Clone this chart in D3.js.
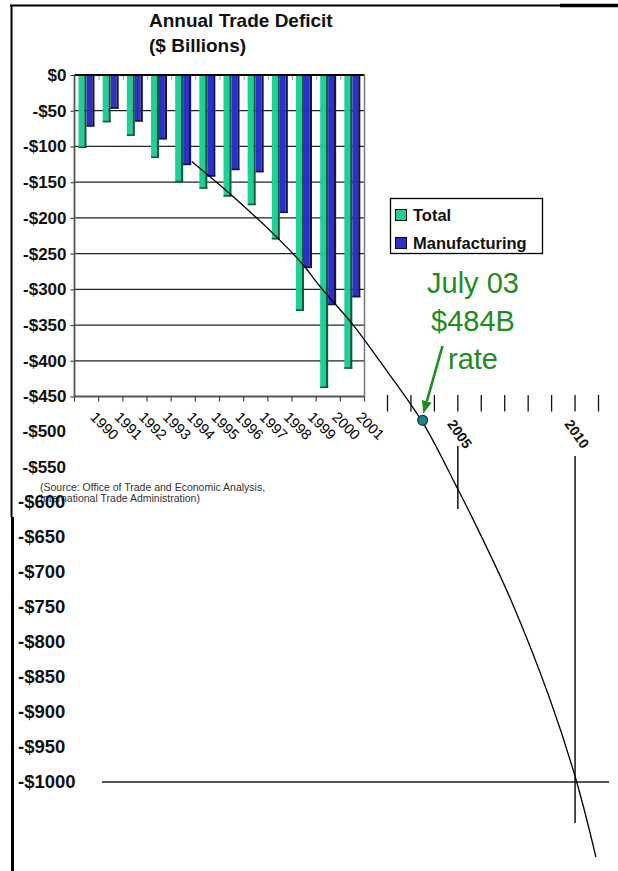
<!DOCTYPE html>
<html>
<head>
<meta charset="utf-8">
<script src="https://cdn.jsdelivr.net/npm/d3@7"></script>
<style>
  html, body { margin: 0; padding: 0; background: #fff; }
  svg { display: block; font-family: "Liberation Sans", Arial, Helvetica, sans-serif; }
</style>
</head>
<body>
<svg id="chart" width="618" height="871"></svg>
<script>
// Annual trade deficit, $ billions
const years = ["1990","1991","1992","1993","1994","1995","1996","1997","1998","1999","2000","2001"];
const seriesNames = ["Total", "Manufacturing"];
const totalDeficit = [-102, -66, -85, -116, -150, -159, -170, -182, -230, -330, -438, -411];
const manufacturingDeficit = [-72, -47, -65, -90, -126, -142, -133, -136, -193, -270, -322, -311];

// value axis labels
const plotTicks = [0, -50, -100, -150, -200, -250, -300, -350, -400, -450];
const midTicks = [-500, -550];
const extTicks = [-600, -650, -700, -750, -800, -850, -900, -950, -1000];

// projection timeline
const projYears = [2002, 2003, 2004, 2005, 2006, 2007, 2008, 2009, 2010, 2011];
const markedYears = [2005, 2010];
const trendYears  = [1993.65, 1995.41, 1997.34, 1998.41, 1999.12, 2000.54, 2001.68, 2003.5, 2004.95, 2005.66, 2007.26, 2008.94, 2010.07, 2010.89];
const trendValues = [-121, -170, -229, -266, -296, -350, -401, -487, -579, -626, -740, -883, -1000, -1107];
const rateYear = 2003.5;
const rateValue = -484;

const colors = { Total: "#1fcf98", Manufacturing: "#2e2ecc" };
const sideColors = { Total: "#0c5c42", Manufacturing: "#14144e" };

const svg = d3.select("#chart");
const fmt = v => v === 0 ? "$0" : "-$" + (-v);

// scales
const y = d3.scaleLinear().domain([0, -450, -1000]).range([75, 396.5, 782]);
const x0 = d3.scaleBand().domain(years).range([74.5, 364.5]);
const x1 = d3.scaleBand().domain(seriesNames).range([4, 20]);
const xt = d3.scaleLinear().domain([2002, 2011]).range([387.5, 598.5]);

// outer frame
svg.append("line").attr("x1", 10).attr("x2", 560).attr("y1", 5.5).attr("y2", 5.5)
  .attr("stroke", "#000").attr("stroke-width", 2);
svg.append("line").attr("x1", 560).attr("x2", 618).attr("y1", 5.5).attr("y2", 5.5)
  .attr("stroke", "#000").attr("stroke-width", 3.5);
svg.append("line").attr("x1", 11.5).attr("x2", 11.5).attr("y1", 5).attr("y2", 517)
  .attr("stroke", "#000").attr("stroke-width", 2);
svg.append("line").attr("x1", 12.5).attr("x2", 12.5).attr("y1", 517).attr("y2", 871)
  .attr("stroke", "#000").attr("stroke-width", 3);

// title
const title = svg.append("text").attr("x", 149).attr("font-weight", "bold")
  .attr("font-size", 19).attr("fill", "#111");
title.append("tspan").attr("x", 149).attr("y", 27).text("Annual Trade Deficit");
title.append("tspan").attr("x", 149).attr("y", 52).text("($ Billions)");

// gridlines
const plotLeft = x0.range()[0], plotRight = x0.range()[1];
svg.append("g").selectAll("line")
  .data(plotTicks.filter(v => v < 0 && v > -450))
  .join("line")
  .attr("x1", plotLeft).attr("x2", plotRight)
  .attr("y1", d => y(d)).attr("y2", d => y(d))
  .attr("stroke", "#222").attr("stroke-width", 1.3);

// bars
const bars = years.flatMap((yr, i) => [
  { yr, s: "Total", v: totalDeficit[i] },
  { yr, s: "Manufacturing", v: manufacturingDeficit[i] }
]);
const side = 2.2;
const bw = x1.bandwidth();
const barG = svg.append("g");
barG.selectAll("rect.front").data(bars).join("rect").attr("class", "front")
  .attr("x", d => x0(d.yr) + x1(d.s))
  .attr("y", y(0))
  .attr("width", bw - side)
  .attr("height", d => y(d.v) - y(0))
  .attr("fill", d => colors[d.s]);
barG.selectAll("rect.side").data(bars).join("rect").attr("class", "side")
  .attr("x", d => x0(d.yr) + x1(d.s) + bw - side)
  .attr("y", y(0))
  .attr("width", side)
  .attr("height", d => y(d.v) - y(0))
  .attr("fill", d => sideColors[d.s]);
barG.selectAll("rect.base").data(bars).join("rect").attr("class", "base")
  .attr("x", d => x0(d.yr) + x1(d.s))
  .attr("y", d => y(d.v) - 1.4)
  .attr("width", bw)
  .attr("height", 1.6)
  .attr("fill", d => sideColors[d.s]);

// top edge and small floor ticks
svg.append("line").attr("x1", plotLeft).attr("x2", plotRight).attr("y1", y(0)).attr("y2", y(0))
  .attr("stroke", "#000").attr("stroke-width", 2.2);
svg.append("g").selectAll("line").data(years.slice(1).concat(["end"]))
  .join("line")
  .attr("x1", d => d === "end" ? plotRight : x0(d) + 0.5)
  .attr("x2", d => d === "end" ? plotRight : x0(d) + 0.5)
  .attr("y1", y(0) + 1).attr("y2", y(0) + 5)
  .attr("stroke", "#999").attr("stroke-width", 1);

// right border and bottom axis
svg.append("line").attr("x1", plotRight).attr("x2", plotRight).attr("y1", y(0)).attr("y2", y(-450))
  .attr("stroke", "#777").attr("stroke-width", 1.5);
svg.append("line").attr("x1", plotLeft).attr("x2", plotRight).attr("y1", y(-450)).attr("y2", y(-450))
  .attr("stroke", "#555").attr("stroke-width", 2);
svg.append("g").selectAll("line").data(years.concat(["end"]))
  .join("line")
  .attr("x1", d => d === "end" ? plotRight : x0(d))
  .attr("x2", d => d === "end" ? plotRight : x0(d))
  .attr("y1", y(-450)).attr("y2", y(-450) + 5)
  .attr("stroke", "#444").attr("stroke-width", 1.2);

// year labels
svg.append("g").selectAll("text").data(years).join("text")
  .attr("transform", d => `translate(${x0(d) + x0.bandwidth() / 2 + 3},${418}) rotate(45)`)
  .attr("font-size", 14.5).attr("fill", "#000")
  .text(d => d);

// left value axis
const yAxis = d3.axisLeft(y).tickValues(plotTicks).tickSize(4).tickPadding(4).tickFormat(fmt);
const axG = svg.append("g").attr("transform", `translate(${plotLeft},0)`).call(yAxis);
axG.select(".domain").remove();
axG.selectAll(".tick line").attr("stroke", "#444").attr("stroke-width", 1.2);
axG.selectAll(".tick text").attr("font-size", 17).attr("font-weight", "bold")
  .attr("font-family", "'Liberation Sans', Arial, sans-serif").attr("fill", "#111");
svg.append("line").attr("x1", plotLeft).attr("x2", plotLeft).attr("y1", y(0)).attr("y2", y(-450))
  .attr("stroke", "#555").attr("stroke-width", 1.8);

// source note
const src = svg.append("text").attr("font-size", 10.5).attr("fill", "#333");
src.append("tspan").attr("x", 40).attr("y", 491).text("(Source:  Office of Trade and Economic Analysis,");
src.append("tspan").attr("x", 40).attr("y", 502).text("International Trade Administration)");

// extended value labels
svg.append("g").selectAll("text").data(midTicks).join("text")
  .attr("x", 66).attr("y", d => y(d)).attr("dy", "0.35em")
  .attr("text-anchor", "end").attr("font-size", 17).attr("font-weight", "bold").attr("fill", "#111")
  .text(fmt);
svg.append("g").selectAll("text").data(extTicks).join("text")
  .attr("x", 18).attr("y", d => y(d)).attr("dy", "0.35em")
  .attr("font-size", 18.5).attr("font-weight", "bold").attr("fill", "#111")
  .text(fmt);

// $1000 reference line
svg.append("line").attr("x1", 102).attr("x2", 609).attr("y1", y(-1000)).attr("y2", y(-1000))
  .attr("stroke", "#555").attr("stroke-width", 2);

// projection ticks
svg.append("g").selectAll("line").data(projYears).join("line")
  .attr("x1", d => xt(d)).attr("x2", d => xt(d))
  .attr("y1", 395).attr("y2", 411.5)
  .attr("stroke", "#111").attr("stroke-width", 1.3);

// marked years
const guideBottom = { 2005: 509, 2010: 823 };
const guideTop = { 2005: 446, 2010: 456 };
svg.append("g").selectAll("line").data(markedYears).join("line")
  .attr("x1", d => xt(d)).attr("x2", d => xt(d))
  .attr("y1", d => guideTop[d]).attr("y2", d => guideBottom[d])
  .attr("stroke", "#111").attr("stroke-width", 1.5);
svg.append("g").selectAll("text").data(markedYears).join("text")
  .attr("transform", d => `translate(${xt(d) - 11},${424}) rotate(55)`)
  .attr("font-size", 14).attr("font-weight", "bold").attr("fill", "#111")
  .text(d => d);

// trend curve
const trend = trendYears.map((yr, i) => ({ yr, v: trendValues[i] }));
svg.append("path").datum(trend)
  .attr("d", d3.line().x(d => xt(d.yr)).y(d => y(d.v)).curve(d3.curveCatmullRom.alpha(0.5)))
  .attr("fill", "none").attr("stroke", "#000").attr("stroke-width", 1.3);

// legend
const lg = svg.append("g");
lg.append("rect").attr("x", 390.5).attr("y", 198.5).attr("width", 152).attr("height", 55)
  .attr("fill", "#fff").attr("stroke", "#000").attr("stroke-width", 1.3);
seriesNames.forEach((s, i) => {
  const cy = 215 + i * 28;
  lg.append("rect").attr("x", 395.5).attr("y", cy - 5.5).attr("width", 11).attr("height", 11)
    .attr("fill", colors[s]).attr("stroke", "#000").attr("stroke-width", 1);
  lg.append("text").attr("x", 413).attr("y", cy + 6).attr("font-size", 16.5)
    .attr("font-weight", "bold").attr("fill", "#111").text(s);
});

// rate annotation
const green = "#1e8c1e";
const ann = svg.append("text").attr("text-anchor", "middle").attr("font-size", 29).attr("fill", green);
ann.append("tspan").attr("x", 473).attr("y", 293).text("July 03");
ann.append("tspan").attr("x", 473).attr("y", 331).text("$" + (-rateValue) + "B");
ann.append("tspan").attr("x", 473).attr("y", 369).text("rate");

const dx = xt(rateYear), dy = y(rateValue);
const tip = [dx + 0.6, dy - 6.5];
const start = [442.5, 346];
const ang = Math.atan2(tip[1] - start[1], tip[0] - start[0]);
const headLen = 13, headW = 5;
const base = [tip[0] - headLen * Math.cos(ang), tip[1] - headLen * Math.sin(ang)];
svg.append("line").attr("x1", start[0]).attr("y1", start[1]).attr("x2", base[0]).attr("y2", base[1])
  .attr("stroke", green).attr("stroke-width", 2.6);
svg.append("path")
  .attr("d", d3.line()([
    tip,
    [base[0] + headW * Math.sin(ang), base[1] - headW * Math.cos(ang)],
    [base[0] - headW * Math.sin(ang), base[1] + headW * Math.cos(ang)]
  ]) + "Z")
  .attr("fill", green);

svg.append("circle").attr("cx", dx).attr("cy", dy).attr("r", 5)
  .attr("fill", "#1a8286").attr("stroke", "#0b3d40").attr("stroke-width", 1.2);
</script>
</body>
</html>
